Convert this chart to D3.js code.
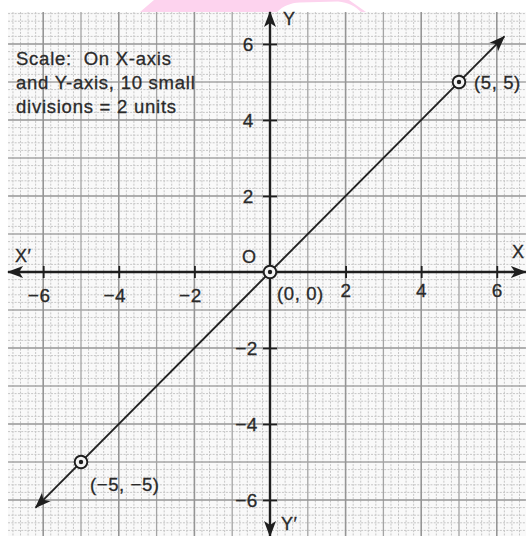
<!DOCTYPE html>
<html>
<head>
<meta charset="utf-8">
<script src="https://cdn.jsdelivr.net/npm/d3@7"></script>
<style>
  html, body { margin: 0; padding: 0; background: #ffffff; }
  svg { display: block; }
  text { font-family: "Liberation Sans", Arial, Helvetica, sans-serif; fill: #2a2a2a; stroke: #2a2a2a; stroke-width: 0.3px; }
  .note { white-space: pre; }
</style>
</head>
<body>
<svg id="chart" width="526" height="536"></svg>
<script>
// ---- data ----
const xTicks = [-6, -4, -2, 2, 4, 6];
const yTicks = [-6, -4, -2, 2, 4, 6];
const lineX = [-6.2, 6.2];          // y = x, drawn between these x values
const lineY = [-6.2, 6.2];
const pointX = [-5, 0, 5];
const pointY = [-5, 0, 5];
const pointLabels = ["(\u22125, \u22125)", "(0, 0)", "(5, 5)"];
const scaleNote = ["Scale:  On X-axis", "and Y-axis, 10 small", "divisions = 2 units"];
const axisXExtent = [-6.93, 6.77];
const axisYExtent = [-6.95, 6.84];
const gridXExtent = [-6.93, 6.77];
const gridYExtent = [-6.95, 6.84];

// ---- layout ----
const W = 526, H = 536;
const ox = 270, oy = 272, ux = 37.8, uy = 38;
const x = d3.scaleLinear().domain([-7, 7]).range([ox - 7 * ux, ox + 7 * ux]);
const y = d3.scaleLinear().domain([-7, 7]).range([oy + 7 * uy, oy - 7 * uy]);

const svg = d3.select("#chart");

// watermark blob at the top edge
svg.append("path")
  .attr("d", "M140,12 L154,0 L349,0 L366,12 Z")
  .attr("fill", "#fdd3ee");
svg.append("path")
  .attr("d", "M277,12 C283,6 290,3 300,2.5 L338,1.5 C348,2 356,7 361,12 Z")
  .attr("fill", "#ffffff");

// ---- graph paper ----
const defs = svg.append("defs");
defs.append("clipPath").attr("id", "paper")
  .append("rect")
  .attr("x", x(gridXExtent[0])).attr("y", y(gridYExtent[1]))
  .attr("width", x(gridXExtent[1]) - x(gridXExtent[0]))
  .attr("height", y(gridYExtent[0]) - y(gridYExtent[1]));

const paper = svg.append("g").attr("clip-path", "url(#paper)");
paper.append("rect")
  .attr("x", x(gridXExtent[0])).attr("y", y(gridYExtent[1]))
  .attr("width", x(gridXExtent[1]) - x(gridXExtent[0]))
  .attr("height", y(gridYExtent[0]) - y(gridYExtent[1]))
  .attr("fill", "#f9f9f9");

const steps = d3.range(-35, 36);        // 5 small divisions per unit
const style = k => (k % 10 === 0) ? "bold" : (k % 5 === 0 ? "mid" : "minor");
const gridStyle = {
  minor: { stroke: "#c6c6c6", width: 1, dash: "2,1.3" },
  mid:   { stroke: "#a4a4a4", width: 1.3, dash: null },
  bold:  { stroke: "#959595", width: 1.6, dash: null }
};
["minor", "mid", "bold"].forEach(kind => {
  const ks = steps.filter(k => style(k) === kind);
  const s = gridStyle[kind];
  paper.append("g").selectAll("line.v").data(ks).join("line")
    .attr("x1", k => x(k / 5)).attr("x2", k => x(k / 5))
    .attr("y1", y(gridYExtent[1])).attr("y2", y(gridYExtent[0]))
    .attr("stroke", s.stroke).attr("stroke-width", s.width)
    .attr("stroke-dasharray", s.dash);
  paper.append("g").selectAll("line.h").data(ks).join("line")
    .attr("y1", k => y(k / 5)).attr("y2", k => y(k / 5))
    .attr("x1", x(gridXExtent[0])).attr("x2", x(gridXExtent[1]))
    .attr("stroke", s.stroke).attr("stroke-width", s.width)
    .attr("stroke-dasharray", s.dash);
});

// ---- arrowheads ----
defs.append("marker")
  .attr("id", "arrow")
  .attr("viewBox", "-16 -7 18 14")
  .attr("refX", 0).attr("refY", 0)
  .attr("markerWidth", 18).attr("markerHeight", 14)
  .attr("markerUnits", "userSpaceOnUse")
  .attr("orient", "auto-start-reverse")
  .append("path")
  .attr("d", "M1,0 L-15,-6 L-11,0 L-15,6 Z")
  .attr("fill", "#1e1e1e");

// ---- axes ----
const axisColor = "#1e1e1e";
svg.append("line")
  .attr("x1", x(axisXExtent[0])).attr("x2", x(axisXExtent[1]))
  .attr("y1", y(0)).attr("y2", y(0))
  .attr("stroke", axisColor).attr("stroke-width", 2.4)
  .attr("marker-start", "url(#arrow)").attr("marker-end", "url(#arrow)");
svg.append("line")
  .attr("x1", x(0)).attr("x2", x(0))
  .attr("y1", y(axisYExtent[0])).attr("y2", y(axisYExtent[1]))
  .attr("stroke", axisColor).attr("stroke-width", 2.4)
  .attr("marker-start", "url(#arrow)").attr("marker-end", "url(#arrow)");

const fmt = d3.format("d");
const xAxis = svg.append("g")
  .attr("transform", `translate(0,${y(0)})`)
  .call(d3.axisBottom(x).tickValues(xTicks).tickSize(6).tickFormat(fmt));
xAxis.select(".domain").remove();
xAxis.selectAll(".tick line")
  .attr("y1", -6).attr("y2", 6)
  .attr("stroke", axisColor).attr("stroke-width", 1.8);
xAxis.selectAll(".tick text")
  .attr("font-size", 19).attr("font-family", null).attr("fill", "#2a2a2a")
  .attr("letter-spacing", 0.6)
  .attr("text-anchor", d => d < 0 ? "end" : "middle")
  .attr("x", d => d < 0 ? 7 : 0)
  .attr("y", d => d < 0 ? 30 : 25)
  .attr("dy", null);

const yAxis = svg.append("g")
  .attr("transform", `translate(${x(0)},0)`)
  .call(d3.axisLeft(y).tickValues(yTicks).tickSize(7).tickFormat(fmt));
yAxis.select(".domain").remove();
yAxis.selectAll(".tick line")
  .attr("x1", -7).attr("x2", 7)
  .attr("stroke", axisColor).attr("stroke-width", 1.8);
yAxis.selectAll(".tick text")
  .attr("font-size", 19).attr("font-family", null).attr("fill", "#2a2a2a")
  .attr("letter-spacing", 0.6)
  .attr("text-anchor", "end")
  .attr("x", d => d < 0 ? -12 : -16)
  .attr("dy", "0.36em");

// axis names
const axisNames = [
  { t: "X\u2032", vx: axisXExtent[0], vy: 0, dx: 7, dy: -10 },
  { t: "X",       vx: axisXExtent[1], vy: 0, dx: -14, dy: -14 },
  { t: "Y",       vx: 0, vy: axisYExtent[1], dx: 13, dy: 13 },
  { t: "Y\u2032", vx: 0, vy: axisYExtent[0], dx: 11, dy: -6 },
  { t: "O",       vx: 0, vy: 0, dx: -28, dy: -9 }
];
svg.append("g").selectAll("text").data(axisNames).join("text")
  .attr("x", d => x(d.vx) + d.dx).attr("y", d => y(d.vy) + d.dy)
  .attr("font-size", 18).attr("letter-spacing", 0.5)
  .text(d => d.t);

// ---- the line y = x ----
svg.append("line")
  .attr("x1", x(lineX[0])).attr("y1", y(lineY[0]))
  .attr("x2", x(lineX[1])).attr("y2", y(lineY[1]))
  .attr("stroke", "#222").attr("stroke-width", 1.9)
  .attr("marker-start", "url(#arrow)").attr("marker-end", "url(#arrow)");

// ---- plotted points ----
const pts = pointX.map((v, i) => ({ x: v, y: pointY[i], label: pointLabels[i] }));
const pg = svg.append("g").selectAll("g").data(pts).join("g")
  .attr("transform", d => `translate(${x(d.x)},${y(d.y)})`);
pg.append("circle").attr("r", 6.3)
  .attr("fill", "#f4f4f4").attr("stroke", "#1e1e1e").attr("stroke-width", 1.9);
pg.append("circle").attr("r", 2.2).attr("fill", "#1e1e1e");

const labelOffset = [{ dx: 9, dy: 29 }, { dx: 7, dy: 28 }, { dx: 15, dy: 7 }];
svg.append("g").selectAll("text").data(pts).join("text")
  .attr("x", (d, i) => x(d.x) + labelOffset[i].dx)
  .attr("y", (d, i) => y(d.y) + labelOffset[i].dy)
  .attr("font-size", 18.5).attr("letter-spacing", 0.6)
  .text(d => d.label);

// ---- scale note ----
svg.append("g").selectAll("text").data(scaleNote).join("text")
  .attr("class", "note")
  .attr("x", 16).attr("y", (d, i) => 65 + i * 24)
  .attr("font-size", 18.5).attr("letter-spacing", 0.75)
  .text(d => d);
</script>
</body>
</html>
